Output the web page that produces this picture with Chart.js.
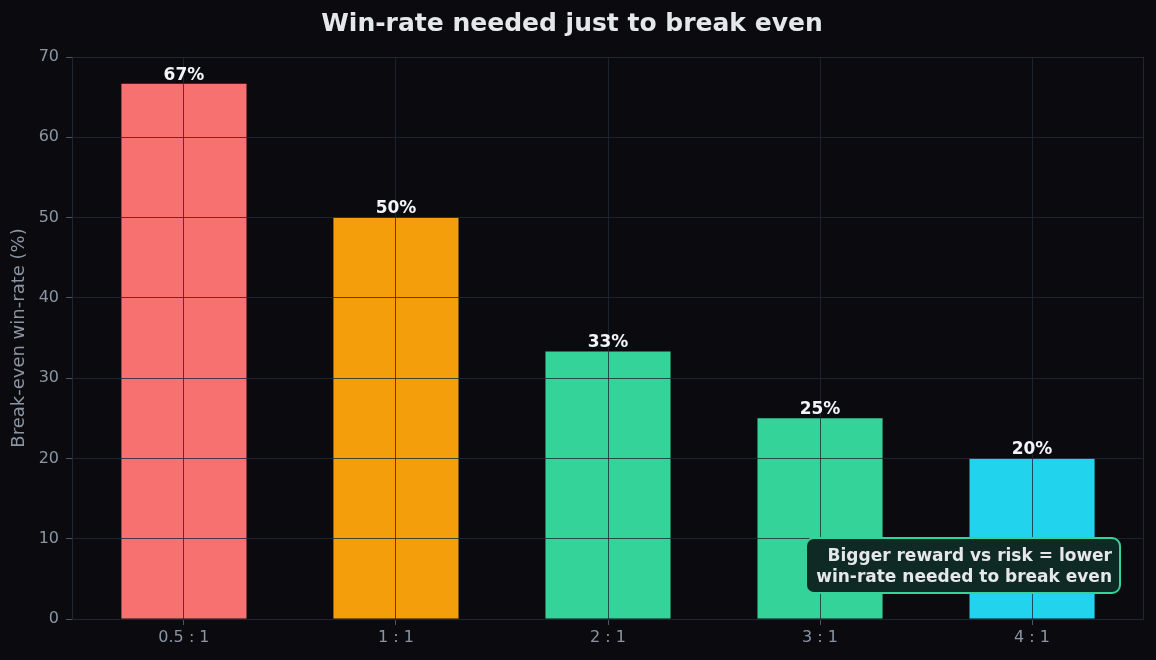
<!DOCTYPE html>
<html>
<head>
<meta charset="utf-8">
<script src="https://cdn.jsdelivr.net/npm/chart.js@4/dist/chart.umd.min.js"></script>
<style>
  html, body { margin: 0; padding: 0; background: #0b0b0f; }
  #wrap { width: 1156px; height: 660px; }
</style>
</head>
<body>
<div id="wrap"><canvas id="chart" width="1156" height="660"></canvas></div>
<script>
// data
const categories = ['0.5 : 1', '1 : 1', '2 : 1', '3 : 1', '4 : 1'];
const breakEven = [66.67, 50, 33.33, 25, 20];
const barColors = ['#f87171', '#f59e0b', '#34d399', '#34d399', '#22d3ee'];
const yTicks = [0, 10, 20, 30, 40, 50, 60, 70];
const noteLines = ['Bigger reward vs risk = lower', 'win-rate needed to break even'];

const FONT = "'DejaVu Sans', sans-serif";
const gridColor = 'rgba(30, 41, 56, 0.8)';
const tickText = '#8b95a3';

// rahmen + beschriftung
const extras = {
  id: 'extras',
  afterDraw(chart) {
    const ctx = chart.ctx;
    const a = chart.chartArea;
    ctx.save();
    ctx.strokeStyle = '#1e2733';
    ctx.lineWidth = 1;
    ctx.strokeRect(a.left + 0.5, a.top + 0.5, a.right - a.left - 1, a.bottom - a.top);

    // werte ueber den balken
    const meta = chart.getDatasetMeta(0);
    ctx.fillStyle = '#f1f5f9';
    ctx.font = 'bold 17px ' + FONT;
    ctx.textAlign = 'center';
    ctx.textBaseline = 'bottom';
    meta.data.forEach((bar, i) => {
      ctx.fillText(Math.round(breakEven[i]) + '%', bar.x, bar.y);
    });

    // hinweisbox unten rechts
    const bx = a.right - 338, by = a.bottom - 81, bw = 314, bh = 55;
    ctx.beginPath();
    ctx.roundRect(bx, by, bw, bh, 8);
    ctx.fillStyle = '#0f2a24';
    ctx.fill();
    ctx.lineWidth = 2;
    ctx.strokeStyle = '#34d399';
    ctx.stroke();
    ctx.fillStyle = '#e5e7eb';
    ctx.textAlign = 'right';
    ctx.textBaseline = 'middle';
    ctx.font = 'bold 17px ' + FONT;
    noteLines.forEach((t, i) => {
      ctx.fillText(t, bx + bw - 8, by + 19 + i * 21);
    });
    ctx.restore();
  }
};

new Chart(document.getElementById('chart'), {
  type: 'bar',
  data: {
    datasets: [{
      data: breakEven.map((v, i) => ({ x: i, y: v })),
      backgroundColor: barColors,
      borderWidth: 0,
      barPercentage: 0.59,
      categoryPercentage: 1
    }]
  },
  options: {
    responsive: false,
    animation: false,
    layout: { padding: { left: 0, right: 12, top: 0, bottom: 0 } },
    plugins: {
      legend: { display: false },
      tooltip: { enabled: false },
      title: {
        display: true,
        text: 'Win-rate needed just to break even',
        color: '#e5e7eb',
        font: { family: FONT, size: 25, weight: 'bold', lineHeight: 1.2 },
        padding: { top: 9, bottom: 18 }
      }
    },
    scales: {
      x: {
        type: 'linear',
        offset: false,
        min: -0.528,
        max: 4.528,
        afterBuildTicks: s => { s.ticks = categories.map((c, i) => ({ value: i })); },
        afterFit: s => { s.height = 41; },
        grid: { offset: false, z: 1, color: gridColor, tickColor: '#4b5563', tickLength: 6 },
        border: { display: false },
        ticks: {
          color: tickText,
          font: { family: FONT, size: 16 },
          padding: 3,
          maxRotation: 0,
          callback: v => categories[v]
        }
      },
      y: {
        min: 0,
        max: 70,
        afterBuildTicks: s => { s.ticks = yTicks.map(v => ({ value: v })); },
        afterFit: s => { s.width = 72; },
        grid: { z: 1, color: gridColor, tickColor: '#4b5563', tickLength: 6 },
        border: { display: false },
        ticks: { color: tickText, font: { family: FONT, size: 16 }, padding: 7 },
        title: {
          display: true,
          text: 'Break-even win-rate (%)',
          color: tickText,
          font: { family: FONT, size: 18 },
          padding: { top: 9 }
        }
      }
    }
  },
  plugins: [extras]
});
</script>
</body>
</html>
